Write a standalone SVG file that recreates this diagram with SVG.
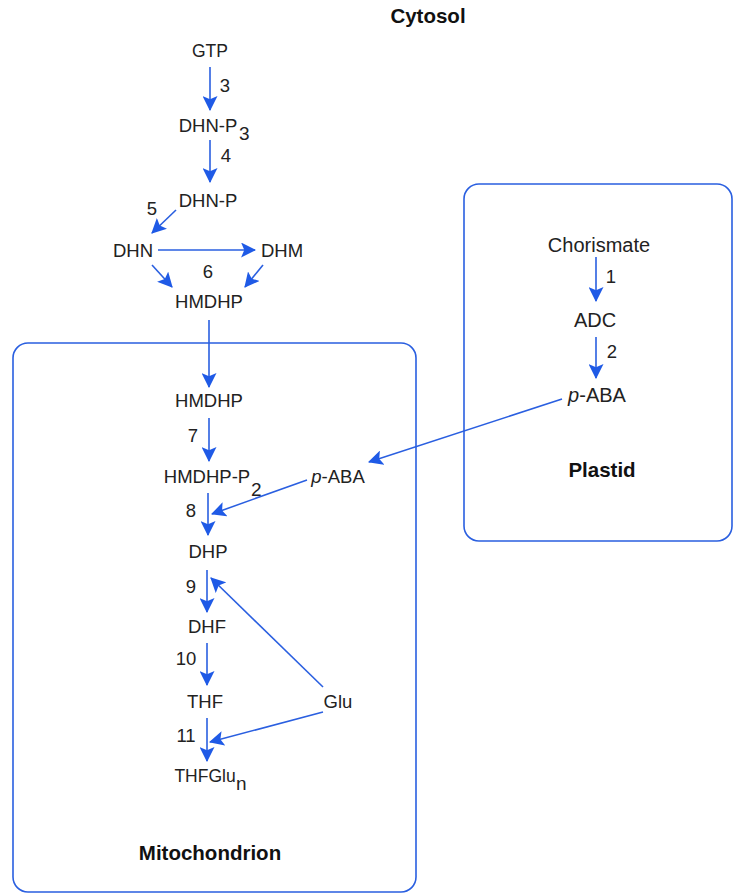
<svg xmlns="http://www.w3.org/2000/svg" width="734" height="894" viewBox="0 0 734 894">
<defs>
<marker id="ah" markerUnits="userSpaceOnUse" markerWidth="15" markerHeight="15" viewBox="0 0 14 14" refX="13" refY="7" orient="auto">
<path d="M0,0 L14,7 L0,14 L3,7 z" fill="#1f5ae6"/>
</marker>
<style>
.t{font-family:"Liberation Sans",Arial,sans-serif;font-size:18.5px;fill:#222;text-anchor:middle}
.p{font-size:20px}
.b{font-family:"Liberation Sans",Arial,sans-serif;font-size:20.5px;font-weight:bold;fill:#111;text-anchor:middle}
.n{font-family:"Liberation Sans",Arial,sans-serif;font-size:18.5px;fill:#222;text-anchor:middle}
.s{font-family:"Liberation Sans",Arial,sans-serif;font-size:19px;fill:#222}
.c{fill:none;stroke:#2a5fe0;stroke-width:1.6;marker-end:url(#ah)}
.box{fill:none;stroke:#2a5fe0;stroke-width:1.6}
</style>
</defs>
<rect width="734" height="894" fill="#fff"/>
<g id="compartments">
<rect class="box" x="13" y="343" width="403" height="549" rx="15"/>
<rect class="box" x="464" y="184" width="268" height="357" rx="15"/>
</g>
<g id="labels">
<text class="b" x="428" y="23">Cytosol</text>
<text class="b" x="210" y="860">Mitochondrion</text>
<text class="b" x="602" y="477">Plastid</text>
</g>
<g id="connectors">
<line class="c" x1="210" y1="67" x2="210" y2="110"/>
<line class="c" x1="210" y1="140" x2="210" y2="182"/>
<line class="c" x1="176" y1="210" x2="152" y2="233"/>
<line class="c" x1="158" y1="250" x2="255" y2="250"/>
<line class="c" x1="152" y1="265" x2="172" y2="287"/>
<line class="c" x1="263" y1="265" x2="245" y2="287"/>
<line class="c" x1="209" y1="320" x2="209" y2="387"/>
<line class="c" x1="209" y1="418" x2="209" y2="461"/>
<line class="c" x1="562" y1="399" x2="369" y2="462"/>
<line class="c" x1="307" y1="480" x2="212" y2="514"/>
<line class="c" x1="208" y1="493" x2="208" y2="535"/>
<line class="c" x1="207" y1="570" x2="207" y2="612"/>
<line class="c" x1="323" y1="687" x2="211" y2="578"/>
<line class="c" x1="207" y1="643" x2="207" y2="685"/>
<line class="c" x1="207" y1="718" x2="207" y2="761"/>
<line class="c" x1="323" y1="712" x2="210" y2="742"/>
<line class="c" x1="596" y1="257" x2="596" y2="301"/>
<line class="c" x1="596" y1="337" x2="596" y2="378"/>
</g>
<g id="n-GTP"><text class="t" x="210" y="57" style="font-size:17.5px">GTP</text></g>
<g id="n-DHNP3"><text class="t" x="208" y="132">DHN-P</text><text class="s" x="239" y="140">3</text></g>
<g id="n-DHNP"><text class="t" x="208" y="207">DHN-P</text></g>
<g id="n-DHN"><text class="t" x="133" y="257">DHN</text></g>
<g id="n-DHM"><text class="t" x="282" y="257">DHM</text></g>
<g id="n-HMDHP1"><text class="t" x="209" y="308">HMDHP</text></g>
<g id="n-HMDHP2"><text class="t" x="209" y="407">HMDHP</text></g>
<g id="n-HMDHPP2"><text class="t" x="207" y="483">HMDHP-P</text><text class="s" x="251" y="496">2</text></g>
<g id="n-pABA-m"><text class="t" x="338" y="483"><tspan font-style="italic">p</tspan>-ABA</text></g>
<g id="n-DHP"><text class="t" x="208" y="558">DHP</text></g>
<g id="n-DHF"><text class="t" x="207" y="633">DHF</text></g>
<g id="n-THF"><text class="t" x="205" y="708">THF</text></g>
<g id="n-Glu"><text class="t" x="338" y="708">Glu</text></g>
<g id="n-THFGlun"><text class="t" x="205" y="782" style="font-size:17.5px">THFGlu</text><text class="s" x="236" y="790">n</text></g>
<g id="n-Chorismate"><text class="t p" x="599" y="252">Chorismate</text></g>
<g id="n-ADC"><text class="t p" x="595" y="327">ADC</text></g>
<g id="n-pABA-p"><text class="t p" x="597" y="402"><tspan font-style="italic">p</tspan>-ABA</text></g>
<g id="steps">
<text class="n" x="225" y="92">3</text>
<text class="n" x="226" y="162">4</text>
<text class="n" x="152" y="215">5</text>
<text class="n" x="208" y="278">6</text>
<text class="n" x="193" y="442">7</text>
<text class="n" x="191" y="517">8</text>
<text class="n" x="191" y="593">9</text>
<text class="n" x="186" y="665">10</text>
<text class="n" x="186" y="742">11</text>
<text class="n p" x="611" y="283">1</text>
<text class="n p" x="612" y="358">2</text>
</g>
</svg>
